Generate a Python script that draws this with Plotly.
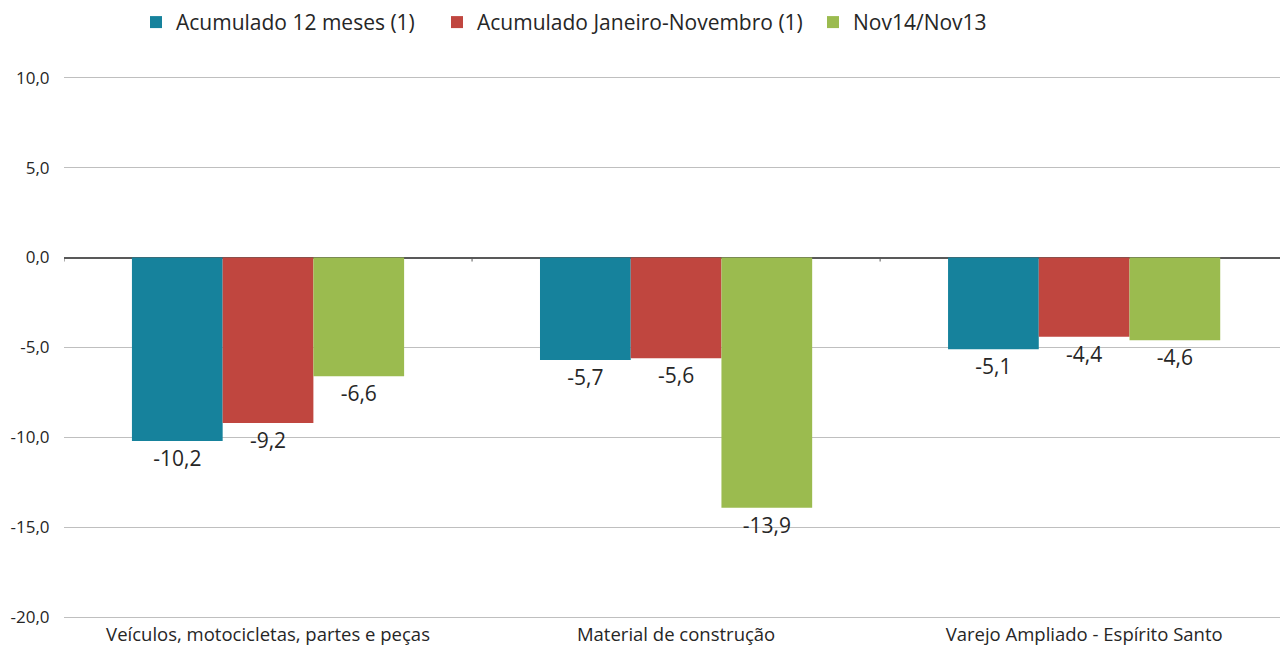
import plotly.graph_objects as go

categories = ["Veículos, motocicletas, partes e peças", "Material de construção", "Varejo Ampliado - Espírito Santo"]
series_names = ["Acumulado 12 meses (1)", "Acumulado Janeiro-Novembro (1)", "Nov14/Nov13"]
acum_12 = [-10.2, -5.7, -5.1]
acum_jan_nov = [-9.2, -5.6, -4.4]
nov14_nov13 = [-6.6, -13.9, -4.6]
y_ticks = [10, 5, 0, -5, -10, -15, -20]

colors = ["#16829C", "#C0463F", "#9BBB4F"]
FONT = "Open Sans"
legend_ids = ["legend", "legend2", "legend3"]
legend_x = [136, 437, 813]


def fmt(v):
    return f"{v:.1f}".replace(".", ",")


fig = go.Figure()
for name, vals, col, lid in zip(series_names, [acum_12, acum_jan_nov, nov14_nov13], colors, legend_ids):
    fig.add_trace(go.Bar(
        x=categories, y=vals, name=name, legend=lid,
        marker=dict(color=col, line=dict(width=0)),
        text=[fmt(v) for v in vals], textposition="outside",
        textfont=dict(family=FONT, size=21, color="#262626"),
        cliponaxis=False, hoverinfo="x+y+name",
    ))

# small tick marks on the zero line at category boundaries
for b in [-0.5, 0.5, 1.5]:
    fig.add_shape(type="line", xref="x", yref="y", x0=b, x1=b,
                  ysizemode="pixel", yanchor=0, y0=0, y1=-4,
                  line=dict(color="#595959", width=1))

legend_common = dict(orientation="h", xref="container", yref="container",
                     y=0.997, xanchor="left", yanchor="top",
                     font=dict(family=FONT, size=21, color="#262626"),
                     itemwidth=30, bgcolor="rgba(0,0,0,0)")

fig.update_layout(
    width=1280, height=648,
    margin=dict(l=64, r=0, t=74, b=27, autoexpand=False),
    plot_bgcolor="white", paper_bgcolor="white",
    separators=",.",
    barmode="group", bargap=0.333, bargroupgap=0,
    font=dict(family=FONT, color="#262626"),
    legend=dict(x=legend_x[0] / 1280, **legend_common),
    legend2=dict(x=legend_x[1] / 1280, **legend_common),
    legend3=dict(x=legend_x[2] / 1280, **legend_common),
    showlegend=True,
)
fig.update_xaxes(type="category", range=[-0.5, 2.48], showgrid=False, ticks="",
                 tickfont=dict(family=FONT, size=18.5, color="#262626"),
                 showline=False, zeroline=False)
fig.update_yaxes(range=[-20.2, 10.2], tickvals=y_ticks, ticktext=[fmt(v) for v in y_ticks],
                 showgrid=True, gridcolor="#BFBFBF", gridwidth=1,
                 zeroline=True, zerolinecolor="#595959", zerolinewidth=2,
                 ticks="outside", ticklen=10, tickcolor="white",
                 tickfont=dict(family=FONT, size=17, color="#262626"),
                 showline=False)

fig.write_html("out.html", config={"displayModeBar": False})

# remove the browser's default body margin so the figure fills the window exactly
with open("out.html", "r", encoding="utf-8") as f:
    html = f.read()
html = html.replace("<body>", '<body style="margin:0;padding:0;overflow:hidden">', 1)
with open("out.html", "w", encoding="utf-8") as f:
    f.write(html)
